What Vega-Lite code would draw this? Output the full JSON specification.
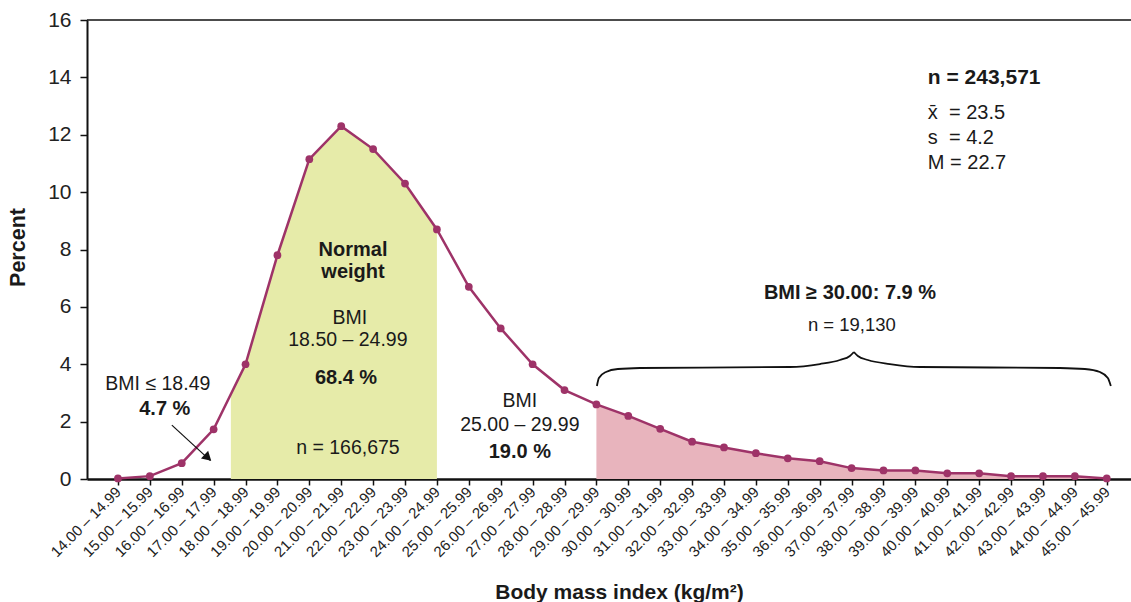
{
  "$schema": "https://vega.github.io/schema/vega-lite/v6.json",
  "width": 1044,
  "height": 459,
  "autosize": {"type": "none"},
  "padding": {"left": 87, "top": 20, "right": 0, "bottom": 123},
  "background": "white",
  "config": {
    "view": {"stroke": null},
    "font": "Liberation Sans",
    "text": {"font": "Liberation Sans", "color": "#1a1a1a"},
    "axis": {"grid": false, "domainColor": "#111111", "tickColor": "#111111", "labelColor": "#222222", "titleColor": "#1a1a1a", "labelFont": "Liberation Sans", "titleFont": "Liberation Sans"},
    "axisX": {
      "labelAngle": -45,
      "labelAlign": "right",
      "labelBaseline": "middle",
      "labelFontSize": 15,
      "labelPadding": 4,
      "labelFlush": false,
      "labelOverlap": false,
      "domainWidth": 2.5,
      "tickWidth": 1.5,
      "tickSize": 6,
      "titleFontSize": 21,
      "titleFontWeight": "bold",
      "titleX": 532,
      "titleY": 119,
      "titleAlign": "center",
      "titleBaseline": "alphabetic"
    },
    "axisY": {
      "labelFontSize": 21,
      "labelPadding": 9,
      "domainWidth": 2,
      "tickWidth": 1.5,
      "tickSize": 7,
      "titleFontSize": 21.5,
      "titleFontWeight": "bold",
      "titleAngle": -90,
      "titleX": -69,
      "titleY": 227,
      "titleAlign": "center",
      "titleBaseline": "middle"
    }
  },
  "datasets": {
    "bmi": [
      {"x": 14, "range": "14.00 – 14.99", "pct": 0.02},
      {"x": 15, "range": "15.00 – 15.99", "pct": 0.1},
      {"x": 16, "range": "16.00 – 16.99", "pct": 0.55},
      {"x": 17, "range": "17.00 – 17.99", "pct": 1.73},
      {"x": 18, "range": "18.00 – 18.99", "pct": 4.0},
      {"x": 19, "range": "19.00 – 19.99", "pct": 7.8},
      {"x": 20, "range": "20.00 – 20.99", "pct": 11.15},
      {"x": 21, "range": "21.00 – 21.99", "pct": 12.3},
      {"x": 22, "range": "22.00 – 22.99", "pct": 11.5},
      {"x": 23, "range": "23.00 – 23.99", "pct": 10.3},
      {"x": 24, "range": "24.00 – 24.99", "pct": 8.7},
      {"x": 25, "range": "25.00 – 25.99", "pct": 6.7},
      {"x": 26, "range": "26.00 – 26.99", "pct": 5.25},
      {"x": 27, "range": "27.00 – 27.99", "pct": 4.0},
      {"x": 28, "range": "28.00 – 28.99", "pct": 3.1},
      {"x": 29, "range": "29.00 – 29.99", "pct": 2.6},
      {"x": 30, "range": "30.00 – 30.99", "pct": 2.2},
      {"x": 31, "range": "31.00 – 31.99", "pct": 1.75},
      {"x": 32, "range": "32.00 – 32.99", "pct": 1.3},
      {"x": 33, "range": "33.00 – 33.99", "pct": 1.1},
      {"x": 34, "range": "34.00 – 34.99", "pct": 0.9},
      {"x": 35, "range": "35.00 – 35.99", "pct": 0.72},
      {"x": 36, "range": "36.00 – 36.99", "pct": 0.62},
      {"x": 37, "range": "37.00 – 37.99", "pct": 0.38},
      {"x": 38, "range": "38.00 – 38.99", "pct": 0.3},
      {"x": 39, "range": "39.00 – 39.99", "pct": 0.3},
      {"x": 40, "range": "40.00 – 40.99", "pct": 0.2},
      {"x": 41, "range": "41.00 – 41.99", "pct": 0.2},
      {"x": 42, "range": "42.00 – 42.99", "pct": 0.1},
      {"x": 43, "range": "43.00 – 43.99", "pct": 0.1},
      {"x": 44, "range": "44.00 – 44.99", "pct": 0.1},
      {"x": 45, "range": "45.00 – 45.99", "pct": 0.02}
    ],
    "normalFill": [
      {"x": 17.54, "pct": 2.95},
      {"x": 18, "pct": 4.0},
      {"x": 19, "pct": 7.8},
      {"x": 20, "pct": 11.15},
      {"x": 21, "pct": 12.3},
      {"x": 22, "pct": 11.5},
      {"x": 23, "pct": 10.3},
      {"x": 24, "pct": 8.7}
    ],
    "brace": [
      {"part": "left", "x": 29.016, "pct": 3.242},
      {"part": "left", "x": 29.078, "pct": 3.52},
      {"part": "left", "x": 29.298, "pct": 3.73},
      {"part": "left", "x": 29.674, "pct": 3.834},
      {"part": "left", "x": 30.364, "pct": 3.869},
      {"part": "left", "x": 35.066, "pct": 3.904},
      {"part": "left", "x": 36.006, "pct": 4.008},
      {"part": "left", "x": 36.633, "pct": 4.148},
      {"part": "left", "x": 36.947, "pct": 4.287},
      {"part": "left", "x": 37.072, "pct": 4.427},
      {"part": "right", "x": 37.072, "pct": 4.427},
      {"part": "right", "x": 37.197, "pct": 4.287},
      {"part": "right", "x": 37.511, "pct": 4.148},
      {"part": "right", "x": 38.201, "pct": 4.008},
      {"part": "right", "x": 39.141, "pct": 3.904},
      {"part": "right", "x": 43.53, "pct": 3.869},
      {"part": "right", "x": 44.313, "pct": 3.834},
      {"part": "right", "x": 44.784, "pct": 3.73},
      {"part": "right", "x": 45.034, "pct": 3.52},
      {"part": "right", "x": 45.128, "pct": 3.242}
    ],
    "arrow": [
      {"x": 15.69, "pct": 1.88, "x2": 16.9, "pct2": 0.64}
    ],
    "arrowHead": [
      {"x": 16.82, "pct": 0.74}
    ],
    "statsBold": [
      {"x": 39.39, "pct": 13.98, "label": "n = 243,571"}
    ],
    "statsNormal": [
      {"x": 39.39, "pct": 12.76, "label": "x̄\u00a0 = 23.5"},
      {"x": 39.39, "pct": 11.89, "label": "s\u00a0 = 4.2"},
      {"x": 39.39, "pct": 11.01, "label": "M = 22.7"}
    ],
    "boldLabels": [
      {"x": 21.37, "pct": 8.0, "label": "Normal"},
      {"x": 21.37, "pct": 7.2, "label": "weight"},
      {"x": 21.15, "pct": 3.52, "label": "68.4 %"},
      {"x": 15.47, "pct": 2.44, "label": "4.7 %"},
      {"x": 26.6, "pct": 0.94, "label": "19.0 %"},
      {"x": 36.95, "pct": 6.48, "label": "BMI ≥ 30.00: 7.9 %"}
    ],
    "normalLabels": [
      {"x": 21.27, "pct": 5.61, "label": "BMI"},
      {"x": 21.21, "pct": 4.85, "label": "18.50 – 24.99"},
      {"x": 21.21, "pct": 1.08, "label": "n = 166,675"},
      {"x": 15.25, "pct": 3.31, "label": "BMI ≤ 18.49"},
      {"x": 26.6, "pct": 2.72, "label": "BMI"},
      {"x": 26.6, "pct": 1.88, "label": "25.00 – 29.99"}
    ],
    "smallLabels": [
      {"x": 37.01, "pct": 5.37, "label": "n = 19,130"}
    ]
  },
  "encoding": {
    "x": {
      "field": "x",
      "type": "quantitative",
      "scale": {"domain": [13.03, 45.76], "nice": false, "zero": false},
      "axis": {
        "values": [14, 15, 16, 17, 18, 19, 20, 21, 22, 23, 24, 25, 26, 27, 28, 29, 30, 31, 32, 33, 34, 35, 36, 37, 38, 39, 40, 41, 42, 43, 44, 45],
        "labelExpr": "format(datum.value, '.2f') + ' – ' + format(datum.value + 0.99, '.2f')",
        "title": "Body mass index (kg/m²)"
      }
    },
    "y": {
      "field": "pct",
      "type": "quantitative",
      "scale": {"domain": [0, 16], "nice": false},
      "axis": {
        "values": [0, 2, 4, 6, 8, 10, 12, 14, 16],
        "title": "Percent"
      }
    }
  },
  "layer": [
    {
      "data": {"name": "normalFill"},
      "mark": {"type": "area", "color": "#e6eba9", "opacity": 1},
      "encoding": {}
    },
    {
      "data": {"name": "bmi"},
      "transform": [{"filter": "datum.x >= 29"}],
      "mark": {"type": "area", "color": "#e8b4bd", "opacity": 1},
      "encoding": {}
    },
    {
      "data": {"name": "arrowHead"},
      "mark": {"type": "rule", "color": "#111111", "strokeWidth": 1.5},
      "encoding": {"x": null, "y": {"datum": 16}}
    },
    {
      "data": {"name": "bmi"},
      "mark": {"type": "line", "color": "#9e3368", "strokeWidth": 2.5, "point": {"filled": true, "size": 60, "color": "#9e3368"}},
      "encoding": {}
    },
    {
      "data": {"name": "brace"},
      "mark": {"type": "line", "color": "#111111", "strokeWidth": 1.8, "interpolate": "monotone"},
      "encoding": {
        "detail": {"field": "part"}
      }
    },
    {
      "data": {"name": "arrow"},
      "mark": {"type": "rule", "color": "#111111", "strokeWidth": 1.2},
      "encoding": {
        "x2": {"field": "x2"},
        "y2": {"field": "pct2"}
      }
    },
    {
      "data": {"name": "arrowHead"},
      "mark": {"type": "point", "shape": "triangle-right", "filled": true, "color": "#111111", "size": 110, "angle": 43, "opacity": 1},
      "encoding": {}
    },
    {
      "data": {"name": "statsBold"},
      "mark": {"type": "text", "align": "left", "baseline": "middle", "fontSize": 21, "fontWeight": "bold"},
      "encoding": {"text": {"field": "label"}}
    },
    {
      "data": {"name": "statsNormal"},
      "mark": {"type": "text", "align": "left", "baseline": "middle", "fontSize": 20},
      "encoding": {"text": {"field": "label"}}
    },
    {
      "data": {"name": "boldLabels"},
      "mark": {"type": "text", "align": "center", "baseline": "middle", "fontSize": 20, "fontWeight": "bold"},
      "encoding": {"text": {"field": "label"}}
    },
    {
      "data": {"name": "normalLabels"},
      "mark": {"type": "text", "align": "center", "baseline": "middle", "fontSize": 19.5},
      "encoding": {"text": {"field": "label"}}
    },
    {
      "data": {"name": "smallLabels"},
      "mark": {"type": "text", "align": "center", "baseline": "middle", "fontSize": 18.5},
      "encoding": {"text": {"field": "label"}}
    }
  ]
}
